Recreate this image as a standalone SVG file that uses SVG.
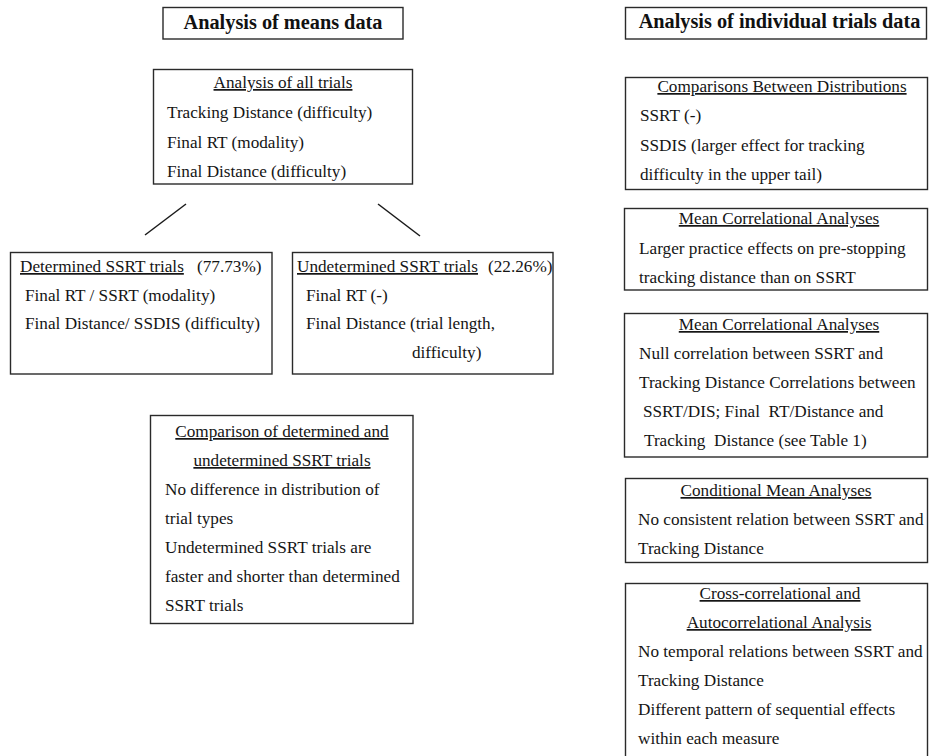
<svg xmlns="http://www.w3.org/2000/svg" width="929" height="756" viewBox="0 0 929 756">
<style>
  .box { fill: #ffffff; stroke: #2a2a2a; stroke-width: 1.4; }
  .t { font-family: "Liberation Serif", "Times New Roman", serif; font-size: 17.2px; fill: #151515; }
  .h { font-family: "Liberation Serif", "Times New Roman", serif; font-size: 20.3px; font-weight: bold; fill: #111111; }
  .c { text-anchor: middle; }
  .u { text-decoration: underline; }
  .conn { stroke: #1a1a1a; stroke-width: 1.5; fill: none; }
</style>
<rect width="929" height="756" fill="#ffffff"/>

<g id="header-means">
  <rect class="box" x="163" y="7.5" width="240" height="31.5"/>
  <text class="h c" x="283" y="29">Analysis of means data</text>
</g>

<g id="all-trials">
  <rect class="box" x="153.5" y="69.5" width="259" height="114.5"/>
  <text class="t c u" x="283" y="88">Analysis of all trials</text>
  <text class="t" x="167" y="118">Tracking Distance (difficulty)</text>
  <text class="t" x="167" y="148">Final RT (modality)</text>
  <text class="t" x="167" y="177">Final Distance (difficulty)</text>
</g>

<g id="connectors">
  <line class="conn" x1="186" y1="204" x2="145" y2="235"/>
  <line class="conn" x1="378" y1="204" x2="420" y2="236"/>
</g>

<g id="determined">
  <rect class="box" x="10.5" y="252.5" width="261.5" height="121.5"/>
  <text class="t u" x="20" y="272">Determined SSRT trials</text>
  <text class="t" x="197" y="272">(77.73%)</text>
  <text class="t" x="25" y="301">Final RT / SSRT (modality)</text>
  <text class="t" x="25" y="329">Final Distance/ SSDIS (difficulty)</text>
</g>

<g id="undetermined">
  <rect class="box" x="292.5" y="252.5" width="260.5" height="121.5"/>
  <text class="t u" x="297" y="272">Undetermined SSRT trials</text>
  <text class="t" x="488" y="272">(22.26%)</text>
  <text class="t" x="306" y="301">Final RT (-)</text>
  <text class="t" x="306" y="329">Final Distance (trial length,</text>
  <text class="t" x="412" y="358">difficulty)</text>
</g>

<g id="comparison">
  <rect class="box" x="150.5" y="415.5" width="262.5" height="208"/>
  <text class="t c u" x="282" y="437">Comparison of determined and</text>
  <text class="t c u" x="282" y="466">undetermined SSRT trials</text>
  <text class="t" x="165" y="495">No difference in distribution of</text>
  <text class="t" x="165" y="524">trial types</text>
  <text class="t" x="165" y="553">Undetermined SSRT trials are</text>
  <text class="t" x="165" y="582">faster and shorter than determined</text>
  <text class="t" x="165" y="611">SSRT trials</text>
</g>

<g id="header-individual">
  <rect class="box" x="625.5" y="7.5" width="301" height="31.5"/>
  <text class="h c" x="779.5" y="28">Analysis of individual trials data</text>
</g>

<g id="distributions">
  <rect class="box" x="625.5" y="77.5" width="302" height="112"/>
  <text class="t c u" x="782" y="92">Comparisons Between Distributions</text>
  <text class="t" x="640" y="121">SSRT (-)</text>
  <text class="t" x="640" y="151">SSDIS (larger effect for tracking</text>
  <text class="t" x="640" y="180">difficulty in the upper tail)</text>
</g>

<g id="mean-corr-1">
  <rect class="box" x="624.5" y="208.5" width="303" height="81.5"/>
  <text class="t c u" x="779" y="224">Mean Correlational Analyses</text>
  <text class="t" x="639" y="254">Larger practice effects on pre-stopping</text>
  <text class="t" x="639" y="283">tracking distance than on SSRT</text>
</g>

<g id="mean-corr-2">
  <rect class="box" x="624.5" y="313.5" width="303" height="143.5"/>
  <text class="t c u" x="779" y="330">Mean Correlational Analyses</text>
  <text class="t" x="639" y="359">Null correlation between SSRT and</text>
  <text class="t" x="639" y="388">Tracking Distance Correlations between</text>
  <text class="t" x="643" y="417" xml:space="preserve">SSRT/DIS; Final  RT/Distance and</text>
  <text class="t" x="644" y="446" xml:space="preserve">Tracking  Distance (see Table 1)</text>
</g>

<g id="conditional">
  <rect class="box" x="625.5" y="478.5" width="302" height="84"/>
  <text class="t c u" x="776" y="496">Conditional Mean Analyses</text>
  <text class="t" x="638" y="525">No consistent relation between SSRT and</text>
  <text class="t" x="638" y="554">Tracking Distance</text>
</g>

<g id="cross-corr">
  <rect class="box" x="625.5" y="583.5" width="302" height="190"/>
  <text class="t c u" x="780" y="599">Cross-correlational and</text>
  <text class="t c u" x="779" y="628">Autocorrelational Analysis</text>
  <text class="t" x="638" y="657">No temporal relations between SSRT and</text>
  <text class="t" x="638" y="686">Tracking Distance</text>
  <text class="t" x="638" y="715">Different pattern of sequential effects</text>
  <text class="t" x="638" y="744">within each measure</text>
</g>
</svg>
